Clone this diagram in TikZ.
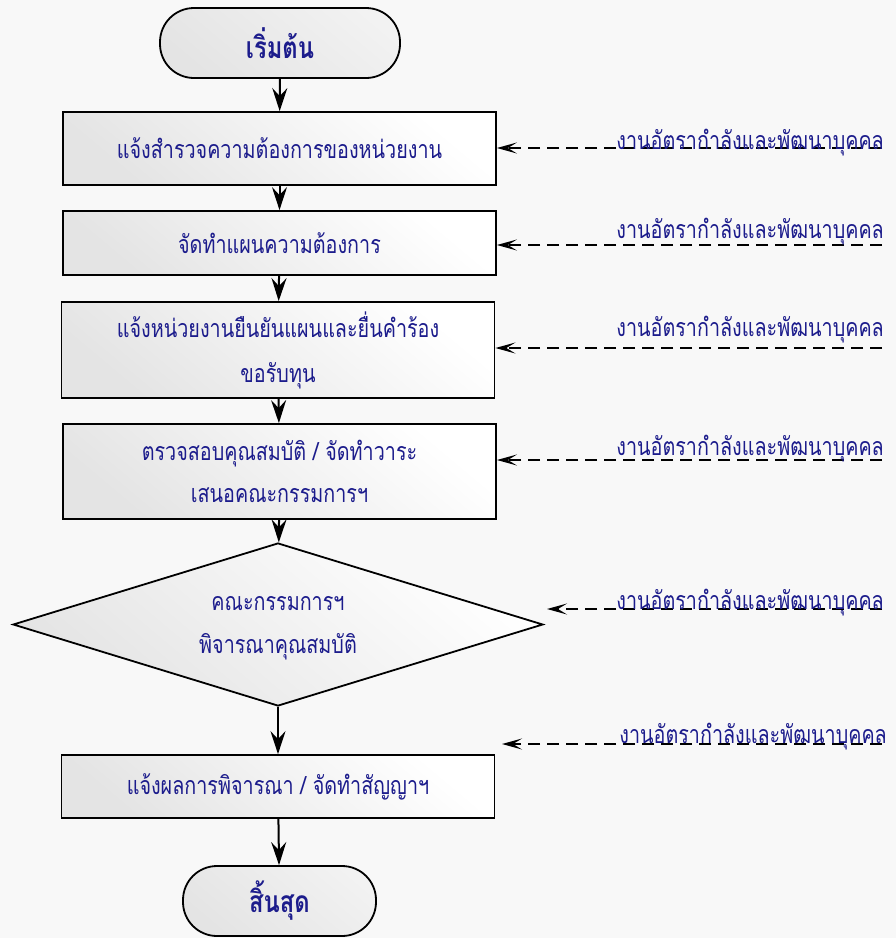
\documentclass[tikz,border=0pt]{standalone}
\usepackage{fontspec}
\newfontfamily\thai[Script=Thai,FakeStretch=0.79]{Loma}
\usetikzlibrary{arrows.meta,shapes.geometric}
\definecolor{pagebg}{RGB}{248,248,248}
\definecolor{ink}{RGB}{28,28,140}
\definecolor{boxshade}{RGB}{228,228,228}
\begin{document}
\begin{tikzpicture}[x=1pt,y=-1pt,
  txt/.style={font=\thai\fontsize{25}{30}\selectfont, text=ink},
  proc/.style={txt, draw=black, line width=1.8pt, rectangle, minimum width=433pt,
    inner sep=0pt, align=center, top color=white, bottom color=boxshade, shading angle=-40},
  term/.style={draw=black, line width=1.8pt, rectangle, rounded corners=34pt,
    font=\thai\bfseries\fontsize{30}{36}\selectfont, text=ink,
    top color=white!50!boxshade, bottom color=boxshade, shading angle=-40},
  decide/.style={draw=black, line width=1.8pt, diamond, inner sep=0pt,
    minimum width=530pt, minimum height=163pt,
    top color=white, bottom color=boxshade, shading angle=-40},
  label/.style={txt, align=center, inner sep=0pt},
  flow/.style={line width=2pt, -{Stealth[length=23pt,width=15pt,inset=8pt]}},
  feed/.style={line width=1.8pt, dash pattern=on 12pt off 7pt,
    -{Stealth[length=20pt,width=11pt,inset=9pt]}},
  unit/.style={txt, anchor=base east, inner sep=0pt}
]
\useasboundingbox (0,0) rectangle (896,938);
\fill[pagebg] (0,0) rectangle (896,938);

% main flow
\node[term, minimum width=240pt, minimum height=70pt] (start) at (280,43) {เริ่มต้น};
\node[proc, minimum height=73pt] (b1) at (279.5,148.5) {แจ้งสำรวจความต้องการของหน่วยงาน};
\node[proc, minimum height=64pt] (b2) at (279.5,243) {จัดทำแผนความต้องการ};
\node[proc, minimum height=96pt] (b3) at (278,350) {แจ้งหน่วยงานยืนยันแผนและยื่นคำร้อง\\[15pt]ขอรับทุน};
\node[proc, minimum height=95pt] (b4) at (279.5,471.5) {ตรวจสอบคุณสมบัติ / จัดทำวาระ\\[12pt]เสนอคณะกรรมการฯ};
\node[decide] (d) at (278,624.5) {};
\node[label] (dtext) at (278,628) {คณะกรรมการฯ\\[13pt]พิจารณาคุณสมบัติ};
\node[proc, minimum height=63pt] (b5) at (278,786.5) {แจ้งผลการพิจารณา / จัดทำสัญญาฯ};
\node[term, minimum width=193pt, minimum height=70pt] (stop) at (279.5,901) {สิ้นสุด};

\draw[flow] (start) -- (b1);
\draw[flow] (b1) -- (b2);
\draw[flow] (b2) -- (b3);
\draw[flow] (b3) -- (b4);
\draw[flow] (b4) -- (d);
\draw[flow] (d) -- (b5);
\draw[flow] (b5) -- (stop);

% responsible unit, fed in from the right
\coordinate (s1) at (882,148);
\coordinate (s2) at (882,245);
\coordinate (s3) at (882,348);
\coordinate (s4) at (882,460);
\coordinate (s5) at (882,609);
\coordinate (t5) at (547,609);
\coordinate (s6) at (882,744);
\coordinate (t6) at (502,744);

\draw[feed] (s1) -- (s1 -| b1.east);
\draw[feed] (s2) -- (s2 -| b2.east);
\draw[feed] (s3) -- (s3 -| b3.east);
\draw[feed] (s4) -- (s4 -| b4.east);
\draw[feed] (s5) -- (t5);
\draw[feed] (s6) -- (t6);

\node[unit] (u1) at (884,149) {งานอัตรากำลังและพัฒนาบุคคล};
\node[unit] (u2) at (884,238) {งานอัตรากำลังและพัฒนาบุคคล};
\node[unit] (u3) at (884,336) {งานอัตรากำลังและพัฒนาบุคคล};
\node[unit] (u4) at (884,455) {งานอัตรากำลังและพัฒนาบุคคล};
\node[unit] (u5) at (884,609) {งานอัตรากำลังและพัฒนาบุคคล};
\node[unit] (u6) at (887,743) {งานอัตรากำลังและพัฒนาบุคคล};
\end{tikzpicture}
\end{document}
